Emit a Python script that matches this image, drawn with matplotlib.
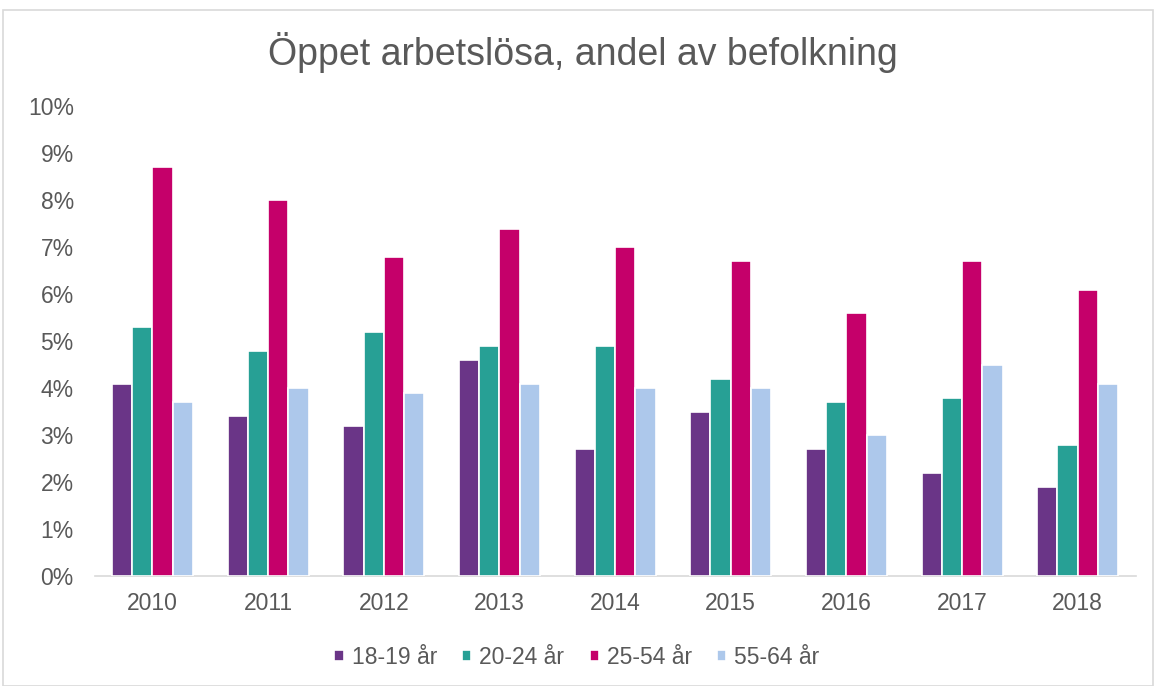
import numpy as np
import matplotlib.pyplot as plt
from matplotlib.patches import Rectangle
from matplotlib.ticker import PercentFormatter

plt.rcParams['font.family'] = ['Liberation Sans', 'DejaVu Sans']

years = ['2010', '2011', '2012', '2013', '2014', '2015', '2016', '2017', '2018']
age_18_19 = [4.1, 3.4, 3.2, 4.6, 2.7, 3.5, 2.7, 2.2, 1.9]
age_20_24 = [5.3, 4.8, 5.2, 4.9, 4.9, 4.2, 3.7, 3.8, 2.8]
age_25_54 = [8.7, 8.0, 6.8, 7.4, 7.0, 6.7, 5.6, 6.7, 6.1]
age_55_64 = [3.7, 4.0, 3.9, 4.1, 4.0, 4.0, 3.0, 4.5, 4.1]
labels = ['18-19 år', '20-24 år', '25-54 år', '55-64 år']
colors = ['#6a3587', '#27a095', '#c5006a', '#adc8eb']

series = [age_18_19, age_20_24, age_25_54, age_55_64]

fig = plt.figure(figsize=(11.54, 6.86), dpi=100)
ax = fig.add_axes([0.082, 0.160, 0.902, 0.685])

x = np.arange(len(years))
w = 0.175
for i, (vals, lab, col) in enumerate(zip(series, labels, colors)):
    ax.bar(x + (i - 1.5) * w, np.array(vals) / 100, width=w, color=col,
           edgecolor='white', linewidth=1.2, label=lab, zorder=3)

ax.set_xlim(-0.5, len(years) - 0.5)
ax.set_ylim(0, 0.10)
ax.set_yticks(np.arange(0, 0.101, 0.01))
ax.yaxis.set_major_formatter(PercentFormatter(1.0, decimals=0))
ax.set_xticks(x)
ax.set_xticklabels(years)

for s in ['top', 'right', 'left']:
    ax.spines[s].set_visible(False)
ax.spines['bottom'].set_color('#d9d9d9')
ax.spines['bottom'].set_linewidth(1.2)
ax.tick_params(axis='both', length=0, labelsize=16.5, colors='#595959')
ax.tick_params(axis='y', pad=15)
ax.tick_params(axis='x', pad=11)

fig.text(0.505, 0.924, 'Öppet arbetslösa, andel av befolkning', ha='center',
         va='center', fontsize=27, color='#595959')

fig.legend(loc='center', bbox_to_anchor=(0.5, 0.042), ncol=4, frameon=False,
           fontsize=16.5, labelcolor='#595959', handlelength=0.4, handleheight=0.4,
           handletextpad=0.35, columnspacing=1.1)

fig.patches.append(Rectangle((0.003, 0.0), 0.996, 0.985, transform=fig.transFigure,
                             fill=False, edgecolor='#d9d9d9', linewidth=1.2))

fig.savefig('out.png', dpi=100, facecolor='white')
